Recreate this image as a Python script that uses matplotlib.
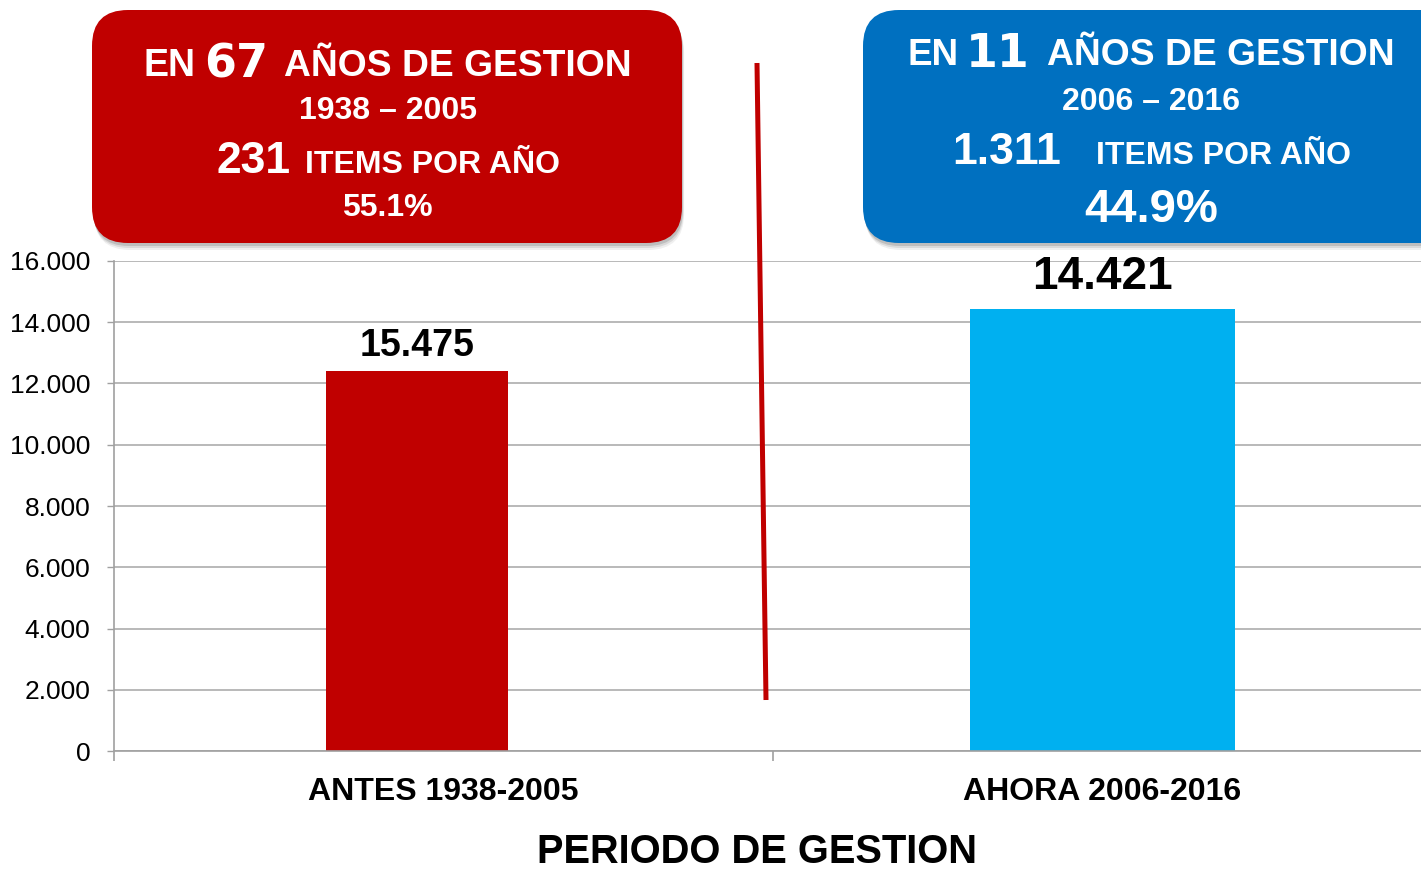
import numpy as np
import matplotlib
matplotlib.use('Agg')
import matplotlib.pyplot as plt
from matplotlib.patches import FancyBboxPatch

plt.rcParams['font.family'] = ['Liberation Sans', 'DejaVu Sans']

# datos del grafico
categorias = ['ANTES 1938-2005', 'AHORA 2006-2016']
alturas = [12400, 14421]             # altura visible de cada barra
etiquetas_valor = ['15.475', '14.421']
colores = ['#C00000', '#00B0F0']
y_ticks = [0, 2000, 4000, 6000, 8000, 10000, 12000, 14000, 16000]
titulo_x = 'PERIODO DE GESTION'

# cuadros de texto
caja_roja = {'anios': '67', 'periodo': '1938 \u2013 2005', 'items': '231', 'pct': '55.1%'}
caja_azul = {'anios': '11', 'periodo': '2006 \u2013 2016', 'items': '1.311', 'pct': '44.9%'}

W, H = 1421, 872
fig = plt.figure(figsize=(W / 100, H / 100), dpi=100)

# ejes principales
ax = fig.add_axes([114 / W, 1 - 751 / H, 1318 / W, 490 / H])
x = np.arange(len(categorias)) + 0.5
anchos = [0.276, 0.403]
desplaz = [-0.04, 0.0]
ax.bar(x + np.array(desplaz), alturas, width=anchos, color=colores, zorder=2)

ax.set_xlim(0, 2)
ax.set_ylim(0, 16000)
ax.set_axisbelow(True)
ax.set_yticks(y_ticks)
ax.set_yticklabels([f'{v:,}'.replace(',', '.') for v in y_ticks], fontsize=19)
ax.tick_params(axis='y', length=5, width=1, color='#A0A0A0', pad=12)
ax.set_xticks([0, 1, 2])
ax.set_xticklabels([])
ax.tick_params(axis='x', which='major', length=7, width=1.2, color='#A0A0A0')
ax.set_xticks(x, categorias, minor=True)
ax.tick_params(axis='x', which='minor', length=0, pad=19, labelsize=23)
for lbl in ax.get_xticklabels(minor=True):
    lbl.set_fontweight('bold')
ax.yaxis.grid(True, color='#A6A6A6', lw=1.1)
for s in ['top', 'right']:
    ax.spines[s].set_visible(False)
for s in ['left', 'bottom']:
    ax.spines[s].set_color('#A0A0A0')
    ax.spines[s].set_linewidth(1.2)

tam_etiq = [27, 33]
offs = [11, 15]
for xi, d, h, t, fs, o in zip(x, desplaz, alturas, etiquetas_valor, tam_etiq, offs):
    ax.annotate(t, (xi + d, h), xytext=(0, o), textcoords='offset points',
                ha='center', va='baseline', fontsize=fs, fontweight='bold')

# capa superior en pixeles
ov = fig.add_axes([0, 0, 1, 1], zorder=5)
ov.set_xlim(0, W)
ov.set_ylim(H, 0)
ov.axis('off')
ov.patch.set_visible(False)


def caja(x0, x1, color):
    for k, a in [(7, 0.08), (5, 0.12), (3, 0.18)]:
        sh = FancyBboxPatch((x0 + k * 0.3, 10 + k), x1 - x0, 233, boxstyle='round,pad=0,rounding_size=36',
                            fc='#404040', ec='none', alpha=a)
        ov.add_patch(sh)
    ov.add_patch(FancyBboxPatch((x0, 10), x1 - x0, 233, boxstyle='round,pad=0,rounding_size=36',
                                fc=color, ec='none'))


def txt(s, xl, base, fs, fam=None):
    kw = {}
    if fam:
        kw['family'] = fam
    ov.text(xl, base, s, fontsize=fs, fontweight='bold', color='white', ha='left', va='baseline', **kw)


caja(92, 682, '#C00000')
caja(863, 1460, '#0070C0')

txt('EN', 143, 76, 27)
txt(caja_roja['anios'], 204, 77, 33, 'DejaVu Sans')
txt('AÑOS DE GESTION', 284, 76, 26.8)
txt(caja_roja['periodo'], 299, 119, 23)
txt(caja_roja['items'], 216, 173, 32)
txt('ITEMS POR AÑO', 305, 173, 23)
txt(caja_roja['pct'], 342, 216, 23)

txt('EN', 907, 65, 26.5)
txt(caja_azul['anios'], 966, 67, 33, 'DejaVu Sans')
txt('AÑOS DE GESTION', 1047, 65, 26.8)
txt(caja_azul['periodo'], 1062, 110, 23)
txt(caja_azul['items'], 952, 164, 32)
txt('ITEMS POR AÑO', 1096, 164, 23)
txt(caja_azul['pct'], 1084, 222, 34)

# linea divisoria
ov.plot([757, 766], [63, 700], color='#C00000', lw=3.6, solid_capstyle='butt')

ov.text(757, 863, titulo_x, ha='center', va='baseline', fontsize=28.7, fontweight='bold')

fig.savefig('out.png', dpi=100)
